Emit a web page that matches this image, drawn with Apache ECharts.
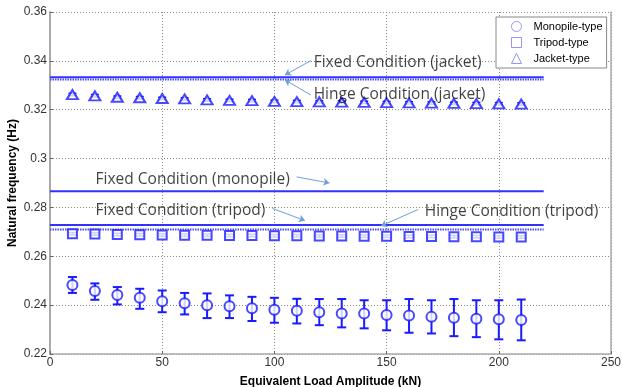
<!DOCTYPE html>
<html><head><meta charset="utf-8">
<script src="https://cdn.jsdelivr.net/npm/echarts@6/dist/echarts.min.js"></script>
<style>html,body{margin:0;padding:0;background:#fff}#c{width:622px;height:387px}</style>
</head><body><div id="c"></div>
<script>
// Equivalent load amplitude (kN)
const loads = [10,20,30,40,50,60,70,80,90,100,110,120,130,140,150,160,170,180,190,200,210];
// Monopile-type: mean and error range
const monoMean = [0.2482,0.2458,0.2442,0.2430,0.2416,0.2408,0.2400,0.2395,0.2387,0.2381,0.2377,0.2371,0.2366,0.2366,0.2360,0.2358,0.2352,0.2348,0.2344,0.2342,0.2339];
const monoLow  = [0.2450,0.2422,0.2403,0.2385,0.2371,0.2362,0.2347,0.2347,0.2335,0.2328,0.2325,0.2318,0.2309,0.2305,0.2297,0.2287,0.2284,0.2273,0.2269,0.2260,0.2256];
const monoHigh = [0.2515,0.2489,0.2474,0.2467,0.2460,0.2450,0.2448,0.2440,0.2434,0.2430,0.2426,0.2425,0.2425,0.2420,0.2420,0.2425,0.2420,0.2425,0.2420,0.2420,0.2423];
// Tripod-type
const tripodMean = [0.2692,0.2691,0.2689,0.2688,0.2687,0.2686,0.2686,0.2685,0.2685,0.2684,0.2684,0.2683,0.2683,0.2682,0.2682,0.2681,0.2681,0.2680,0.2680,0.2679,0.2679];
const tripodErr = 0.0005;
// Jacket-type
const jacketMean = [0.3262,0.3257,0.3251,0.3249,0.3246,0.3244,0.3240,0.3238,0.3237,0.3234,0.3233,0.3232,0.3231,0.3230,0.3229,0.3228,0.3227,0.3226,0.3225,0.3224,0.3223];
const jacketErr = 0.0005;
// Reference conditions (horizontal lines)
const refX = [0, 220];
const fixedJacket = 0.3333;
const hingeJacket = 0.3324;
const fixedMonopile = 0.2866;
const fixedTripod = 0.2728;
const hingeTripod = 0.2710;
// Annotation texts [text, x, y] and arrows [x1,y1,x2,y2]
const notes = [
  ['Fixed Condition (jacket)', 117.5, 0.3394],
  ['Hinge Condition (jacket)', 117.5, 0.3264],
  ['Fixed Condition (monopile)', 20.3, 0.2915],
  ['Fixed Condition (tripod)', 20.3, 0.2788],
  ['Hinge Condition (tripod)', 167, 0.2781]
];
const arrows = [
  [116.3, 0.3401, 104.7, 0.3342],
  [116.3, 0.3260, 104.7, 0.3322],
  [109.9, 0.2925, 124.5, 0.2900],
  [99.1, 0.2796, 113.6, 0.2746],
  [164.1, 0.2792, 147.5, 0.2724]
];
const xTicks = [0, 50, 100, 150, 200, 250];
const yTicks = [0.22, 0.24, 0.26, 0.28, 0.30, 0.32, 0.34, 0.36];

const BLUE = '#1a1aff';
const LINE_BLUE = '#3232ff';

function errSeries(lows, highs, capW, lw) {
  return {
    type: 'custom', silent: true, z: 3,
    renderItem: function (params, api) {
      const x = api.value(0), lo = api.value(1), hi = api.value(2);
      const p1 = api.coord([x, hi]), p2 = api.coord([x, lo]);
      const style = { stroke: BLUE, lineWidth: lw, fill: null };
      return { type: 'group', children: [
        { type: 'line', shape: { x1: p1[0], y1: p1[1], x2: p2[0], y2: p2[1] }, style: style },
        { type: 'line', shape: { x1: p1[0] - capW / 2, y1: p1[1], x2: p1[0] + capW / 2, y2: p1[1] }, style: style },
        { type: 'line', shape: { x1: p2[0] - capW / 2, y1: p2[1], x2: p2[0] + capW / 2, y2: p2[1] }, style: style }
      ]};
    },
    encode: { x: 0, y: [1, 2] },
    data: loads.map((x, i) => [x, lows[i], highs[i]])
  };
}
function refLine(v, dotted) {
  return {
    type: 'line', silent: true, symbol: 'none', z: 1,
    lineStyle: dotted ? { color: '#4a4aff', width: 2, type: [1.5, 1] } : { color: LINE_BLUE, width: 2 },
    data: refX.map(x => [x, v])
  };
}
const legendIcon = { color: 'rgba(255,255,255,0)', borderColor: '#7c7cff', borderWidth: 1 };

const chart = echarts.init(document.getElementById('c'));
chart.setOption({
  animation: false,
  backgroundColor: '#fff',
  grid: { left: 50, right: 11, top: 12, bottom: 33, outerBoundsMode: 'none', containLabel: false },
  xAxis: {
    type: 'value', min: xTicks[0], max: xTicks[xTicks.length - 1], interval: 50,
    name: 'Equivalent Load Amplitude (kN)', nameLocation: 'middle', nameGap: 22, nameMoveOverlap: false,
    nameTextStyle: { fontFamily: 'Liberation Sans', fontWeight: 'bold', fontSize: 12, color: '#000' },
    axisLine: { lineStyle: { color: '#aaa', width: 1.5 } },
    axisTick: { inside: true, length: 3, lineStyle: { color: '#666' } },
    axisLabel: { fontFamily: 'Liberation Sans', fontSize: 12, color: '#333', margin: 3 },
    splitLine: { show: true, lineStyle: { color: '#888', type: [1, 2], width: 1 } }
  },
  yAxis: [{
    type: 'value', min: yTicks[0], max: yTicks[yTicks.length - 1], interval: 0.02,
    name: 'Natural frequency (Hz)', nameLocation: 'middle', nameGap: 31, nameMoveOverlap: false,
    nameTextStyle: { fontFamily: 'Liberation Sans', fontWeight: 'bold', fontSize: 12, color: '#000' },
    axisLine: { show: true, lineStyle: { color: '#aaa', width: 2 } },
    axisTick: { show: true, inside: true, length: 3, lineStyle: { color: '#666' } },
    axisLabel: { fontFamily: 'Liberation Sans', fontSize: 12, color: '#333', margin: 3 },
    splitLine: { show: true, lineStyle: { color: '#888', type: [1, 2], width: 1 } }
  }, {
    type: 'value', position: 'right', min: yTicks[0], max: yTicks[yTicks.length - 1], interval: 0.02,
    axisLine: { show: true, lineStyle: { color: '#aaa', width: 1.5 } },
    axisTick: { show: false }, axisLabel: { show: false }, splitLine: { show: false }
  }],
  legend: {
    orient: 'vertical', left: 496, top: 17,
    padding: [4, 4, 4, 15], itemGap: 5, itemWidth: 10, itemHeight: 10,
    backgroundColor: '#fff', borderColor: '#888', borderWidth: 1, borderRadius: 0,
    textStyle: { fontFamily: 'Liberation Sans', fontSize: 11, color: '#000', padding: [0, 0, 0, 7] },
    data: [
      { name: 'Monopile-type', icon: 'circle', itemStyle: legendIcon },
      { name: 'Tripod-type', icon: 'rect', itemStyle: legendIcon },
      { name: 'Jacket-type', icon: 'triangle', itemStyle: legendIcon }
    ]
  },
  series: [
    refLine(fixedJacket, false),
    refLine(hingeJacket, true),
    refLine(fixedMonopile, false),
    refLine(fixedTripod, false),
    refLine(hingeTripod, true),
    errSeries(monoLow, monoHigh, 9, 2),
    errSeries(tripodMean.map(v => v - tripodErr), tripodMean.map(v => v + tripodErr), 8, 1.5),
    errSeries(jacketMean.map(v => v - jacketErr), jacketMean.map(v => v + jacketErr), 8, 1.5),
    { name: 'Monopile-type', type: 'scatter', symbol: 'emptyCircle', symbolSize: 10, z: 4,
      itemStyle: { color: BLUE, borderColor: BLUE, borderWidth: 1.8 },
      data: loads.map((x, i) => [x, monoMean[i]]) },
    { name: 'Tripod-type', type: 'scatter', symbol: 'emptyRect', symbolSize: 9, z: 4,
      itemStyle: { color: BLUE, borderColor: BLUE, borderWidth: 1.8 },
      data: loads.map((x, i) => [x, tripodMean[i]]) },
    { name: 'Jacket-type', type: 'scatter', symbol: 'emptyTriangle', symbolSize: [11, 9], z: 4,
      itemStyle: { color: BLUE, borderColor: BLUE, borderWidth: 1.8 },
      data: loads.map((x, i) => [x, jacketMean[i]]) },
    { type: 'lines', coordinateSystem: 'cartesian2d', silent: true, z: 5,
      symbol: ['none', 'arrow'], symbolSize: 6,
      lineStyle: { color: '#6f9fd8', width: 1, opacity: 1 },
      data: arrows.map(a => ({ coords: [[a[0], a[1]], [a[2], a[3]]] })) },
    { type: 'scatter', silent: true, symbolSize: 0, z: 6,
      label: { show: true, position: 'right', distance: 0, formatter: '{b}',
        fontFamily: 'Open Sans', fontSize: 15.5, color: '#111' },
      data: notes.map(n => ({ name: n[0], value: [n[1], n[2]] })) }
  ]
});
</script></body></html>
